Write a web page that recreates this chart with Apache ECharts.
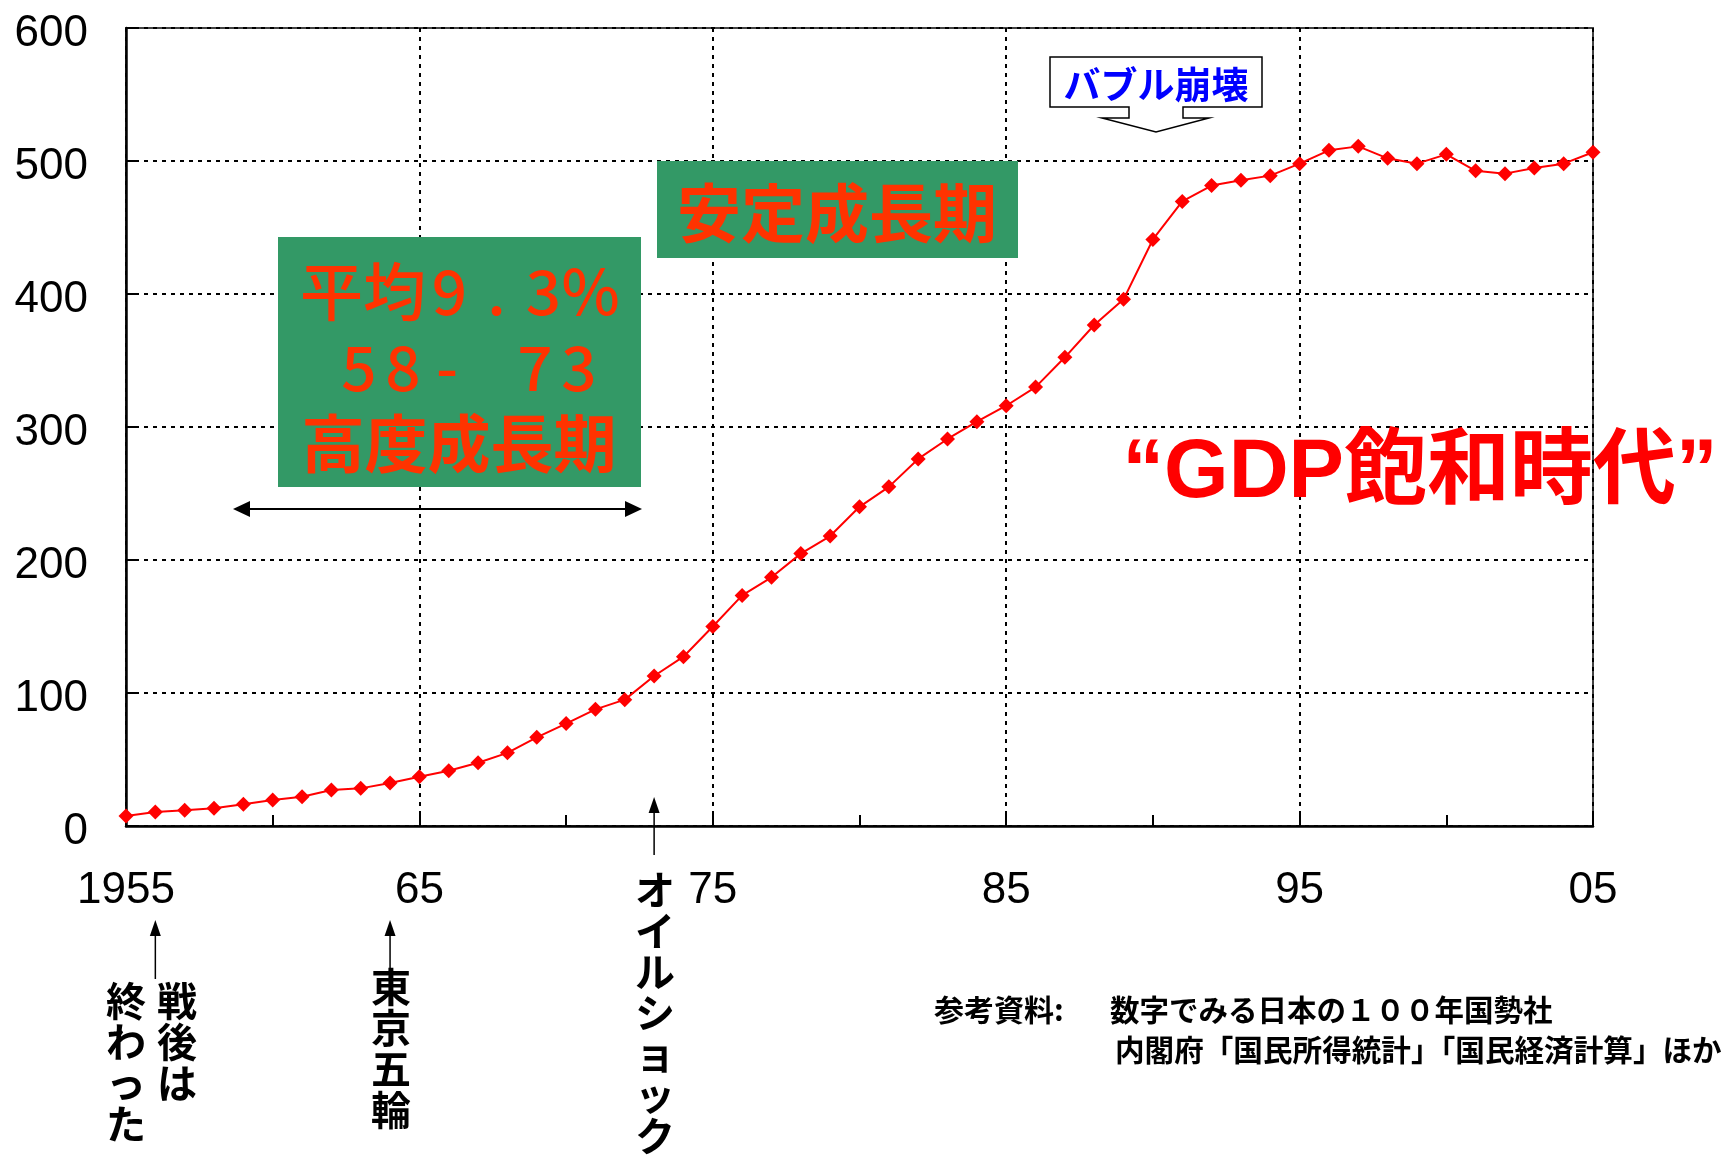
<!DOCTYPE html>
<html>
<head>
<meta charset="utf-8">
<script src="https://cdn.jsdelivr.net/npm/echarts@6/dist/echarts.min.js"></script>
<style>
  html, body { margin: 0; padding: 0; background: #fff; }
  #chart { width: 1723px; height: 1159px; }
</style>
</head>
<body>
<div id="chart"></div>
<script>
// years on the x axis (category)
const years = [
  "1955", "1956", "1957", "1958", "1959", "1960", "1961", "1962", "1963", "1964",
  "1965", "1966", "1967", "1968", "1969", "1970", "1971", "1972", "1973", "1974",
  "1975", "1976", "1977", "1978", "1979", "1980", "1981", "1982", "1983", "1984",
  "1985", "1986", "1987", "1988", "1989", "1990", "1991", "1992", "1993", "1994",
  "1995", "1996", "1997", "1998", "1999", "2000", "2001", "2002", "2003", "2004",
  "2005",
];
// GDP (兆円)
const gdp = [
  7.5, 10.5, 11.8, 13.3, 16.3, 19.5, 22, 27, 28.3, 32.3,
  37, 41.6, 47.6, 55, 66.7, 77, 87.7, 95, 112.8, 127.3,
  150, 173.4, 187, 204.8, 218, 240, 255, 276, 291, 304,
  316, 330, 352.4, 376.7, 396, 441, 469.6, 481.5, 485.6, 489,
  498, 508, 511, 502, 498, 505, 492.6, 490.5, 494.7, 498,
  506.6,
];

const GREEN = "#339966";
const ORANGE = "#ff3300";
const JP = '"Noto Sans CJK JP", sans-serif';
const LAT = '"Liberation Sans", Arial, sans-serif';

const chart = echarts.init(document.getElementById("chart"));

const dotted = { color: "#000", width: 2, type: [4, 5] };

chart.setOption({
  animation: false,
  backgroundColor: "#fff",
  grid: {
    left: 126, right: 130, top: 28, bottom: 333,
    show: true, borderColor: "#444", borderWidth: 2,
  },
  xAxis: {
    type: "category",
    data: years,
    boundaryGap: false,
    axisLine: { lineStyle: { color: "#000", width: 2.5 } },
    axisTick: { show: true, inside: true, interval: 4, length: 11, lineStyle: { color: "#000", width: 2 } },
    axisLabel: {
      interval: 9,
      margin: 43,
      fontFamily: LAT,
      fontSize: 44,
      color: "#000",
      formatter: (v, i) => (i === 0 ? v : v.slice(2)),
    },
    splitLine: { show: true, interval: 9, lineStyle: dotted },
  },
  yAxis: {
    type: "value",
    min: 0,
    max: 600,
    interval: 100,
    axisLine: { show: true, lineStyle: { color: "#000", width: 2.5 } },
    axisTick: { show: true, inside: true, length: 12, lineStyle: { color: "#000", width: 2 } },
    axisLabel: {
      margin: 38, fontFamily: LAT, fontSize: 44, color: "#000",
      verticalAlign: "top", lineHeight: 12,
    },
    splitLine: { show: true, lineStyle: dotted },
  },
  series: [
    {
      type: "line",
      data: gdp,
      symbol: "diamond",
      symbolSize: 15,
      itemStyle: { color: "#ff0000" },
      lineStyle: { color: "#ff0000", width: 2 },
      z: 5,
    },
  ],
});

// annotations
const xOf = (y) => chart.convertToPixel({ xAxisIndex: 0 }, y);

function arrowUp(x, tip, end) {
  return [
    { type: "line", z: 20, shape: { x1: x, y1: tip + 12, x2: x, y2: end }, style: { stroke: "#000", lineWidth: 1.5 } },
    { type: "polygon", z: 20, shape: { points: [[x, tip], [x - 5.5, tip + 16], [x + 5.5, tip + 16]] }, style: { fill: "#000" } },
  ];
}

function vtext(str, x, top, size) {
  return {
    type: "text", z: 20,
    style: {
      text: str.split("").join("\n"),
      x: x, y: top,
      align: "center", verticalAlign: "top",
      font: "bold " + size + "px " + JP,
      lineHeight: size + 1,
      fill: "#000",
    },
  };
}

function txt(text, x, y, font, fill, align) {
  return {
    type: "text", z: 20,
    style: { text, x, y, font, fill, align: align || "center", verticalAlign: "middle" },
  };
}

// fixed-width cells, one per character
function cells(chars, w) {
  return chars.map((c) => "{c" + w + "|" + c + "}").join("");
}
const cellFont = { fontFamily: JP, fontWeight: 500, fontSize: 62, fill: ORANGE, align: "center" };

const x56 = xOf("1956");
const x64 = xOf("1964");
const x73 = xOf("1973");

const graphics = [
  // 高度成長期 box
  { type: "rect", z: 10, shape: { x: 278, y: 237, width: 363, height: 250 }, style: { fill: GREEN } },
  {
    type: "text", z: 20,
    style: {
      text: "{h|平均}" + cells(["9", ".", "3", "%"], 47),
      x: 300, y: 291, align: "left", verticalAlign: "middle", fill: ORANGE,
      rich: {
        h: { fontFamily: JP, fontWeight: 500, fontSize: 63, fill: ORANGE },
        c47: Object.assign({ width: 47 }, cellFont),
      },
    },
  },
  {
    type: "text", z: 20,
    style: {
      text: cells(["5", "8", "-", " ", "7", "3"], 44),
      x: 337, y: 367, align: "left", verticalAlign: "middle", fill: ORANGE,
      rich: { c44: Object.assign({ width: 44 }, cellFont) },
    },
  },
  txt("高度成長期", 459, 443, "bold 63px " + JP, ORANGE),
  // <-> arrow
  { type: "line", z: 20, shape: { x1: 246, y1: 509, x2: 628, y2: 509 }, style: { stroke: "#000", lineWidth: 2 } },
  { type: "polygon", z: 20, shape: { points: [[233, 509], [250, 501], [250, 517]] }, style: { fill: "#000" } },
  { type: "polygon", z: 20, shape: { points: [[642, 509], [625, 501], [625, 517]] }, style: { fill: "#000" } },
  // 安定成長期 box
  { type: "rect", z: 10, shape: { x: 657, y: 161, width: 361, height: 97 }, style: { fill: GREEN } },
  txt("安定成長期", 837, 213, "bold 64px " + JP, ORANGE),
  // バブル崩壊 callout
  {
    type: "polygon", z: 20,
    shape: {
      points: [
        [1050, 57], [1262, 57], [1262, 107], [1183, 107], [1183, 118], [1209, 118],
        [1156, 132], [1102, 118], [1129, 118], [1129, 107], [1050, 107],
      ],
    },
    style: { fill: "#fff", stroke: "#000", lineWidth: 1.5 },
  },
  txt("バブル崩壊", 1156, 85, "bold 37px " + JP, "#0000ff"),
  // GDP飽和時代
  txt("“GDP飽和時代”", 1420, 474, "bold 83px " + LAT + ', "Noto Sans CJK JP"', "#ff0000"),
  // event arrows and vertical labels
  ...arrowUp(x56, 920, 979),
  vtext("戦後は", 177, 980, 40),
  vtext("終わった", 126, 980, 40),
  ...arrowUp(x64, 920, 971),
  vtext("東京五輪", 391, 966, 40),
  ...arrowUp(x73, 797, 855),
  vtext("オイルショック", 655, 869, 40),
  // source
  txt("参考資料:", 934, 1010, "bold 30px " + JP, "#000", "left"),
  txt("数字でみる日本の１００年国勢社", 1110, 1010, "bold 29.5px " + JP, "#000", "left"),
  txt("内閣府「国民所得統計」「国民経済計算」ほか", 1115, 1050, "bold 29.6px " + JP, "#000", "left"),
];

chart.setOption({ graphic: graphics });
</script>
</body>
</html>
